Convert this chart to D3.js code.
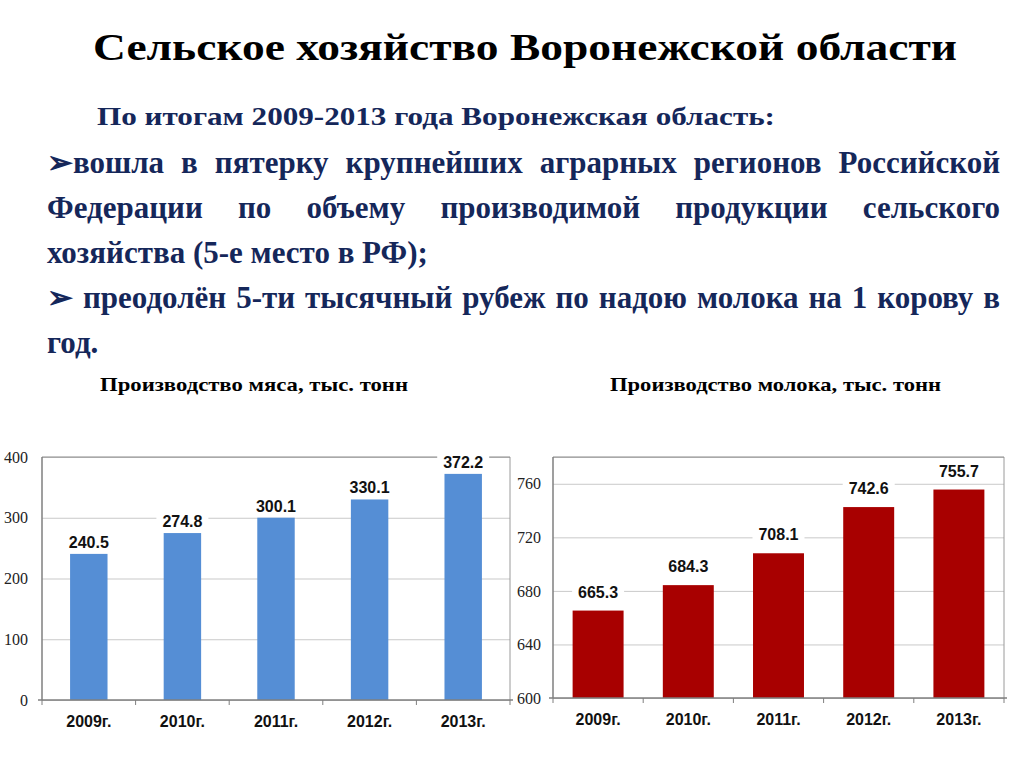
<!DOCTYPE html>
<html><head><meta charset="utf-8">
<script src="https://cdn.jsdelivr.net/npm/d3@7/dist/d3.min.js"></script>
<style>
html,body{margin:0;padding:0;background:#fff;}
svg{display:block;}
.serif{font-family:"Liberation Serif","Times New Roman",Times,serif;}
.sans{font-family:"Liberation Sans",Arial,Helvetica,sans-serif;}
</style>
</head><body>
<svg id="c" width="1024" height="768"></svg>
<script>
// ---- data ----
const years = ["2009г.", "2010г.", "2011г.", "2012г.", "2013г."];
const meat = [240.5, 274.8, 300.1, 330.1, 372.2];
const milk = [665.3, 684.3, 708.1, 742.6, 755.7];
const meatTicks = [0, 100, 200, 300, 400];
const milkTicks = [600, 640, 680, 720, 760];
const title = "Сельское хозяйство Воронежской области";
const subtitle = "По итогам 2009-2013 года Воронежская область:";
const bodyLines = [
  {words: ["➢вошла", "в", "пятерку", "крупнейших", "аграрных", "регионов", "Российской"], justify: true},
  {words: ["Федерации", "по", "объему", "производимой", "продукции", "сельского"], justify: true},
  {words: ["хозяйства", "(5-е", "место", "в", "РФ);"], justify: false},
  {words: ["➢", "преодолён", "5-ти", "тысячный", "рубеж", "по", "надою", "молока", "на", "1", "корову", "в"], justify: true},
  {words: ["год."], justify: false}
];
const meatTitle = "Производство мяса, тыс. тонн";
const milkTitle = "Производство молока, тыс. тонн";

const svg = d3.select("#c");
const navy = "#15275a";

function fitText(sel, w) {
  sel.attr("textLength", w).attr("lengthAdjust", "spacingAndGlyphs");
}

// title
svg.append("text").attr("class", "serif").attr("x", 93).attr("y", 60)
  .attr("font-weight", "bold").attr("font-size", 38)
  .attr("fill", "#000").text(title).call(fitText, 864);

svg.append("text").attr("class", "serif").attr("x", 97).attr("y", 125)
  .attr("font-weight", "bold").attr("font-size", 26)
  .attr("fill", navy).text(subtitle).call(fitText, 678);

// body, justified
const bx0 = 47, bx1 = 1000, by0 = 173, bdy = 45, bfs = 31;
bodyLines.forEach((ln, li) => {
  const g = svg.append("g");
  if (!ln.justify) {
    g.append("text").attr("class", "serif").attr("x", bx0).attr("y", by0 + li * bdy)
      .attr("font-weight", "bold").attr("font-size", bfs)
      .attr("fill", navy).text(ln.words.join(" "));
    return;
  }
  const ts = g.selectAll("text").data(ln.words).join("text")
    .attr("class", "serif")
    .attr("y", by0 + li * bdy)
    .attr("font-weight", "bold").attr("font-size", bfs)
    .attr("fill", navy).text(d => d);
  const widths = [];
  ts.each(function(){ widths.push(this.getComputedTextLength()); });
  const total = d3.sum(widths);
  const space = (bx1 - bx0 - total) / (ln.words.length - 1);
  let x = bx0;
  ts.each(function(d, i){ d3.select(this).attr("x", x); x += widths[i] + space; });
});

// chart titles
svg.append("text").attr("class", "serif").attr("x", 100).attr("y", 391)
  .attr("font-weight", "bold").attr("font-size", 19)
  .attr("fill", "#000").text(meatTitle).call(fitText, 308);
svg.append("text").attr("class", "serif").attr("x", 610).attr("y", 391)
  .attr("font-weight", "bold").attr("font-size", 19)
  .attr("fill", "#000").text(milkTitle).call(fitText, 331);

function drawChart(cfg) {
  const {x0, x1, yTop, yBot, domain, ticks, values, color, pad, labelOff, tickLabelX} = cfg;
  const g = svg.append("g");
  const x = d3.scaleBand().domain(years).range([x0, x1]).paddingInner(pad).paddingOuter(pad / 2);
  const y = d3.scaleLinear().domain(domain).range([yBot, yTop]);
  const step = x.step();

  // gridlines
  g.append("g").attr("transform", `translate(${x0},0)`)
    .call(d3.axisLeft(y).tickValues(ticks.concat([domain[1]])).tickSize(-(x1 - x0)).tickFormat(""))
    .call(a => a.select(".domain").remove())
    .call(a => a.selectAll("line").attr("stroke", "#c9c9c9").attr("stroke-width", 1));
  // right border
  g.append("line").attr("x1", x1).attr("x2", x1).attr("y1", yTop).attr("y2", yBot)
    .attr("stroke", "#9a9a9a");
  // top border
  g.append("line").attr("x1", x0).attr("x2", x1).attr("y1", yTop).attr("y2", yTop)
    .attr("stroke", "#8a8a8a");

  // tick labels
  g.append("g").attr("transform", `translate(${x0},0)`)
    .call(d3.axisLeft(y).tickValues(ticks).tickSize(0).tickPadding(x0 - tickLabelX))
    .call(a => a.select(".domain").remove())
    .call(a => a.attr("font-family", null))
    .call(a => a.selectAll("text").attr("class", "serif").attr("font-size", 16).attr("fill", "#222"));

  // bars
  g.selectAll("rect.bar").data(values).join("rect").attr("class", "bar")
    .attr("x", (d, i) => x(years[i])).attr("width", x.bandwidth())
    .attr("y", d => y(d)).attr("height", d => yBot - y(d))
    .attr("fill", color);

  // axes lines
  g.append("line").attr("x1", x0).attr("x2", x0).attr("y1", yTop).attr("y2", yBot)
    .attr("stroke", "#7f7f7f").attr("stroke-width", 1.5);
  g.append("line").attr("x1", x0 - 4).attr("x2", x1 + 3).attr("y1", yBot).attr("y2", yBot)
    .attr("stroke", "#7f7f7f").attr("stroke-width", 1.5);
  // category boundary ticks
  g.selectAll("line.ct").data(d3.range(years.length + 1)).join("line").attr("class", "ct")
    .attr("x1", i => x0 + i * step).attr("x2", i => x0 + i * step)
    .attr("y1", yBot).attr("y2", yBot + 5).attr("stroke", "#7f7f7f");

  // category labels
  g.append("g").attr("transform", `translate(0,${yBot})`)
    .call(d3.axisBottom(x).tickSize(0).tickPadding(16))
    .call(a => a.select(".domain").remove())
    .call(a => a.attr("font-family", null))
    .call(a => a.selectAll("text").attr("class", "sans").attr("font-weight", "bold")
      .attr("font-size", 16).attr("fill", "#111"));

  // value labels with white backgrounds
  const lab = g.selectAll("g.lab").data(values).join("g").attr("class", "lab");
  lab.append("rect")
    .attr("x", (d, i) => x(years[i]) + x.bandwidth() / 2 - 26)
    .attr("y", d => y(d) - labelOff - 15).attr("width", 52).attr("height", 19)
    .attr("fill", "#fff");
  lab.append("text").attr("class", "sans")
    .attr("x", (d, i) => x(years[i]) + x.bandwidth() / 2)
    .attr("y", d => y(d) - labelOff)
    .attr("text-anchor", "middle")
    .attr("font-weight", "bold").attr("font-size", 16)
    .attr("fill", "#111").text(d => d.toFixed(1));
}

drawChart({x0: 42, x1: 510, yTop: 457, yBot: 700, domain: [0, 400], ticks: meatTicks,
  values: meat, color: "#558ed5", pad: 0.6, labelOff: 6, tickLabelX: 28});
drawChart({x0: 553, x1: 1004, yTop: 457, yBot: 698, domain: [600, 780], ticks: milkTicks,
  values: milk, color: "#a80000", pad: 0.435, labelOff: 13, tickLabelX: 541});
</script>
</body></html>
